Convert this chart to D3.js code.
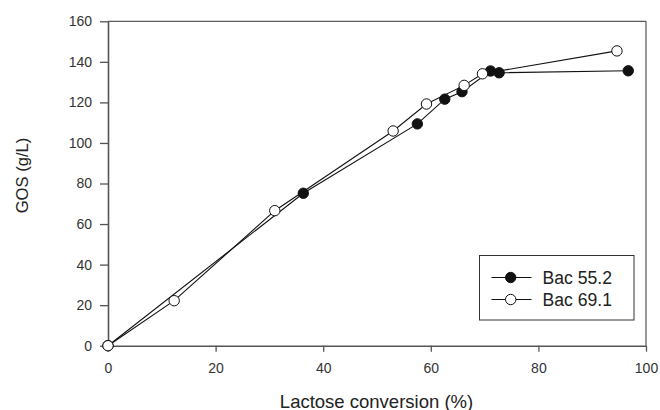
<!DOCTYPE html>
<html>
<head>
<meta charset="utf-8">
<script src="https://d3js.org/d3.v7.min.js"></script>
<style>
  body { margin: 0; background: #fff; }
  text { font-family: "Liberation Sans", Arial, sans-serif; }
</style>
</head>
<body>
<div id="chart"></div>
<script>
// data
const bac55x = [0, 36.3, 57.5, 62.6, 65.8, 71.1, 72.7, 96.7];
const bac55y = [0, 75.2, 109.4, 121.6, 125.3, 135.5, 134.6, 135.6];
const bac69x = [0, 12.3, 31.0, 53.0, 59.2, 66.2, 69.6, 94.6];
const bac69y = [0, 22.2, 66.6, 105.9, 119.2, 128.4, 134.1, 145.4];
const xTicks = [0, 20, 40, 60, 80, 100];
const yTicks = [0, 20, 40, 60, 80, 100, 120, 140, 160];
const seriesNames = ["Bac 55.2", "Bac 69.1"];

const W = 660, H = 410;
const mLeft = 108, mRight = 646, mTop = 21.3, mBottom = 345.7;

const svg = d3.select("#chart").append("svg")
  .attr("width", W).attr("height", H);

const x = d3.scaleLinear().domain([0, 100]).range([mLeft, mRight]);
const y = d3.scaleLinear().domain([0, 160]).range([mBottom, mTop]);

// frame: top and right thin
svg.append("line").attr("x1", mLeft).attr("x2", mRight).attr("y1", mTop).attr("y2", mTop)
  .attr("stroke", "#333").attr("stroke-width", 1);
svg.append("line").attr("x1", mRight).attr("x2", mRight).attr("y1", mTop).attr("y2", mBottom)
  .attr("stroke", "#333").attr("stroke-width", 1);

// axes
const xAxis = svg.append("g").attr("transform", "translate(0," + mBottom + ")")
  .call(d3.axisBottom(x).tickValues(xTicks).tickSize(6).tickPadding(11).tickSizeOuter(0));
const yAxis = svg.append("g").attr("transform", "translate(" + mLeft + ",0)")
  .call(d3.axisLeft(y).tickValues(yTicks).tickSize(8).tickPadding(8).tickSizeOuter(0));

[xAxis, yAxis].forEach(a => {
  a.select(".domain").attr("stroke", "#555").attr("stroke-width", 1.6);
  a.selectAll(".tick line").attr("stroke", "#555").attr("stroke-width", 1.3);
  a.selectAll(".tick text").attr("fill", "#333").style("font-size", "14px")
    .style("font-family", "'Liberation Sans', Arial, sans-serif");
});

// axis titles
svg.append("text").attr("x", 376.5).attr("y", 407.5)
  .attr("text-anchor", "middle").style("font-size", "18.5px").attr("fill", "#222")
  .text("Lactose conversion (%)");
svg.append("text").attr("transform", "translate(28,175.5) rotate(-90)")
  .attr("text-anchor", "middle").style("font-size", "16.6px").attr("fill", "#222")
  .text("GOS (g/L)");

const line = d3.line()
  .x(d => x(d[0])).y(d => y(d[1]));

const s55 = bac55x.map((v, i) => [v, bac55y[i]]);
const s69 = bac69x.map((v, i) => [v, bac69y[i]]);

[s55, s69].forEach(s => {
  svg.append("path").datum(s).attr("d", line)
    .attr("fill", "none").attr("stroke", "#111").attr("stroke-width", 1.1);
});

svg.append("g").selectAll("circle").data(s55).enter().append("circle")
  .attr("cx", d => x(d[0])).attr("cy", d => y(d[1])).attr("r", 5.2)
  .attr("fill", "#111").attr("stroke", "#111").attr("stroke-width", 1);
svg.append("g").selectAll("circle").data(s69).enter().append("circle")
  .attr("cx", d => x(d[0])).attr("cy", d => y(d[1])).attr("r", 5.2)
  .attr("fill", "#fff").attr("stroke", "#111").attr("stroke-width", 1);

// legend
const lg = svg.append("g");
lg.append("rect").attr("x", 479.5).attr("y", 255.5).attr("width", 154.5).attr("height", 64.5)
  .attr("fill", "#fff").attr("stroke", "#333").attr("stroke-width", 1);
seriesNames.forEach((name, i) => {
  const ly = 277.5 + i * 22;
  lg.append("line").attr("x1", 491.5).attr("x2", 531.5).attr("y1", ly).attr("y2", ly)
    .attr("stroke", "#111").attr("stroke-width", 1.1);
  lg.append("circle").attr("cx", 510.7).attr("cy", ly).attr("r", 5.2)
    .attr("fill", i === 0 ? "#111" : "#fff").attr("stroke", "#111");
  lg.append("text").attr("x", 542.5).attr("y", ly + 6)
    .style("font-size", "17.6px").attr("fill", "#222").text(name);
});
</script>
</body>
</html>
